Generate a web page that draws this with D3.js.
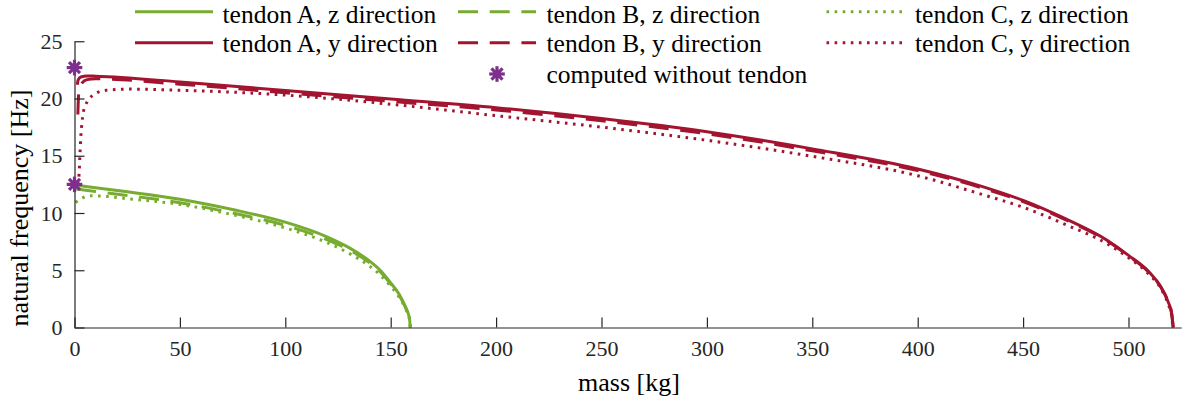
<!DOCTYPE html>
<html>
<head>
<meta charset="utf-8">
<script src="https://cdn.jsdelivr.net/npm/d3@7/dist/d3.min.js"></script>
<style>
  html, body { margin: 0; padding: 0; background: #fff; }
  svg { display: block; }
  svg text { font-family: "Liberation Serif", "DejaVu Serif", serif; }
</style>
</head>
<body>
<svg id="chart" width="1188" height="402"></svg>
<script>
// ---------------- data ----------------
const xTicks = [0, 50, 100, 150, 200, 250, 300, 350, 400, 450, 500];
const yTicks = [0, 5, 10, 15, 20, 25];

// tendon A, z direction
const massAz = [0, 10, 25, 50, 75, 100, 120, 130, 140, 145, 150, 154, 157, 158.5, 159.0, 159.3];
const freqAz = [12.45, 12.2, 11.85, 11.2, 10.3, 9.2, 7.9, 7.0, 5.8, 5.0, 3.9, 2.9, 1.8, 1.1, 0.65, 0];
// tendon B, z direction
const massBz = [0.8, 10, 25, 50, 75, 100, 120, 130, 140, 145, 150, 154, 157, 158.5, 159.0, 159.3];
const freqBz = [12.1, 11.88, 11.53, 10.9, 10.0, 8.92, 7.65, 6.8, 5.65, 4.88, 3.8, 2.82, 1.75, 1.05, 0.63, 0];
// tendon C, z direction
const massCz = [0.5, 3, 8, 15, 25, 50, 75, 100, 120, 130, 140, 145, 150, 154, 157, 158.5, 159.0, 159.3];
const freqCz = [10.9, 11.25, 11.5, 11.45, 11.25, 10.75, 9.85, 8.7, 7.4, 6.5, 5.35, 4.6, 3.6, 2.65, 1.65, 1.0, 0.6, 0];

// tendon A, y direction
const massAy = [1.3, 1.8, 3, 6, 10, 50, 100, 150, 200, 250, 300, 350, 400, 430, 450, 470, 490, 500, 510, 515, 519, 520.5, 521.2];
const freqAy = [21.2, 21.65, 21.88, 21.97, 21.95, 21.45, 20.7, 19.95, 19.2, 18.25, 17.1, 15.6, 13.85, 12.35, 11.1, 9.5, 7.6, 6.3, 4.8, 3.65, 2.15, 1.2, 0];
// tendon B, y direction
const massBy = [1.6, 1.9, 2.5, 3.5, 6, 10, 50, 100, 150, 200, 250, 300, 350, 400, 430, 450, 470, 490, 500, 510, 515, 519, 520.5, 521.2];
const freqBy = [18.6, 20.2, 20.9, 21.35, 21.65, 21.72, 21.25, 20.5, 19.75, 19.0, 18.05, 16.92, 15.43, 13.7, 12.22, 11.0, 9.42, 7.55, 6.25, 4.75, 3.62, 2.12, 1.18, 0];
// tendon C, y direction
const massCy = [1.5, 2.2, 2.6, 3.0, 3.5, 4.2, 5.2, 6.5, 9.7, 15, 25, 50, 100, 150, 200, 250, 300, 350, 400, 430, 450, 470, 490, 500, 510, 515, 519, 520.5, 521.0];
const freqCy = [12.5, 13.5, 15.2, 16.7, 17.8, 18.8, 19.4, 19.85, 20.4, 20.72, 20.82, 20.72, 20.3, 19.5, 18.5, 17.5, 16.35, 14.95, 13.25, 11.65, 10.5, 9.0, 7.3, 6.1, 4.6, 3.5, 1.95, 1.0, 0];

// computed without tendon
const massNoTendon = [0, 0];
const freqNoTendon = [22.7, 12.5];

const legendLabels = [
  "tendon A, z direction", "tendon B, z direction", "tendon C, z direction",
  "tendon A, y direction", "tendon B, y direction", "tendon C, y direction",
  "computed without tendon"
];

// ---------------- styles ----------------
const FONT = '"Liberation Serif", "DejaVu Serif", serif';
const GREEN = "#77AC30", RED = "#A2142F", PURPLE = "#7E2F8E", AXIS = "#262626";
const DASH = "20,11.7", DOT = "2.6,5.5";

const series = [
  {m: massAz, f: freqAz, color: GREEN, dash: null},
  {m: massAy, f: freqAy, color: RED, dash: null},
  {m: massBz, f: freqBz, color: GREEN, dash: DASH},
  {m: massBy, f: freqBy, color: RED, dash: DASH},
  {m: massCz, f: freqCz, color: GREEN, dash: DOT},
  {m: massCy, f: freqCy, color: RED, dash: DOT}
];

// ---------------- chart ----------------
const svg = d3.select("#chart");
const x = d3.scaleLinear().domain([0, 525]).range([74.5, 1181.2]);
const y = d3.scaleLinear().domain([0, 25]).range([327.5, 41.25]);

const line = d3.line().x(d => x(d[0])).y(d => y(d[1])).curve(d3.curveMonotoneX);

const gLines = svg.append("g");
series.forEach(s => {
  const pts = s.m.map((mv, i) => [mv, s.f[i]]);
  gLines.append("path")
    .attr("d", line(pts))
    .attr("fill", "none")
    .attr("stroke", s.color)
    .attr("stroke-width", 3)
    .attr("stroke-linejoin", "round")
    .attr("stroke-dasharray", s.dash);
});

// axes
const xAxis = d3.axisBottom(x).tickValues(xTicks).tickSizeInner(-10).tickSizeOuter(0).tickPadding(13);
const yAxis = d3.axisLeft(y).tickValues(yTicks).tickSizeInner(-10).tickSizeOuter(0).tickPadding(12);

const gx = svg.append("g").attr("transform", `translate(0,${y(0)})`).call(xAxis);
const gy = svg.append("g").attr("transform", `translate(${x(0)},0)`).call(yAxis);
[gx, gy].forEach(g => {
  g.attr("font-family", FONT).attr("font-size", 22);
  g.selectAll("path.domain").attr("stroke", AXIS).attr("stroke-width", 1.2);
  g.selectAll(".tick line").attr("stroke", AXIS).attr("stroke-width", 1.2);
  g.selectAll(".tick text").attr("fill", AXIS).attr("font-family", FONT).attr("font-size", 22);
});

// stars
function star(g, cx, cy, r) {
  [0, 45, 90, 135].forEach(deg => {
    const rad = deg * Math.PI / 180;
    g.append("line")
      .attr("x1", cx - r * Math.cos(rad)).attr("y1", cy - r * Math.sin(rad))
      .attr("x2", cx + r * Math.cos(rad)).attr("y2", cy + r * Math.sin(rad))
      .attr("stroke", PURPLE).attr("stroke-width", 3.2).attr("stroke-linecap", "butt");
  });
  g.append("circle").attr("cx", cx).attr("cy", cy).attr("r", 4).attr("fill", PURPLE);
}
const gStars = svg.append("g");
massNoTendon.forEach((mv, i) => star(gStars, x(mv), y(freqNoTendon[i]), 7.8));

// axis titles
svg.append("text")
  .attr("x", 629).attr("y", 391)
  .attr("text-anchor", "middle")
  .attr("font-family", FONT).attr("font-size", 26).attr("fill", "#000")
  .text("mass [kg]");
svg.append("text")
  .attr("transform", "translate(28,208) rotate(-90)")
  .attr("text-anchor", "middle")
  .attr("font-family", FONT).attr("font-size", 26).attr("fill", "#000")
  .text("natural frequency [Hz]");

// legend
const legendItems = [
  {label: legendLabels[0], color: GREEN, dash: null, lx: 135, tx: 222.5, ly: 11.7},
  {label: legendLabels[1], color: GREEN, dash: DASH, lx: 458, tx: 546.5, ly: 11.7},
  {label: legendLabels[2], color: GREEN, dash: DOT, lx: 826.5, tx: 915, ly: 11.7},
  {label: legendLabels[3], color: RED, dash: null, lx: 135, tx: 222.5, ly: 42.7},
  {label: legendLabels[4], color: RED, dash: DASH, lx: 458, tx: 546.5, ly: 42.7},
  {label: legendLabels[5], color: RED, dash: DOT, lx: 826.5, tx: 915, ly: 42.7}
];
const gLeg = svg.append("g");
legendItems.forEach((it, i) => {
  gLeg.append("line")
    .attr("x1", it.lx).attr("x2", it.lx + 78).attr("y1", it.ly).attr("y2", it.ly)
    .attr("stroke", it.color).attr("stroke-width", 3)
    .attr("stroke-dasharray", it.dash);
  gLeg.append("text")
    .attr("x", it.tx).attr("y", i < 3 ? 22.8 : 52)
    .attr("font-family", FONT).attr("font-size", 25.5).attr("fill", "#000")
    .text(it.label);
});
star(gLeg, 497, 74, 7.8);
gLeg.append("text")
  .attr("x", 546.5).attr("y", 83)
  .attr("font-family", FONT).attr("font-size", 25.5).attr("fill", "#000")
  .text(legendLabels[6]);
</script>
</body>
</html>
